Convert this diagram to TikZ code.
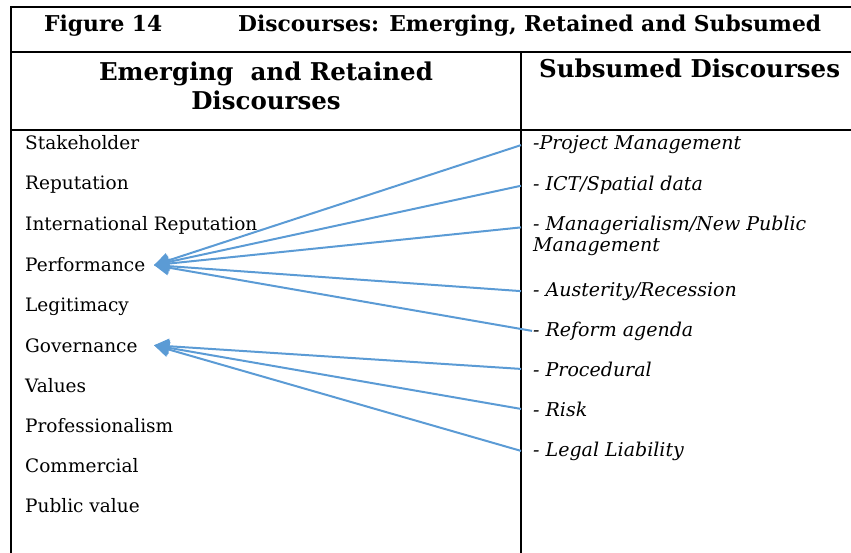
\documentclass[tikz,border=0pt]{standalone}
\usepackage{fontspec}
\setmainfont{DejaVu Serif}
\usetikzlibrary{arrows.meta}
\definecolor{linkblue}{HTML}{5B9BD5}

\begin{document}
\begin{tikzpicture}[x=1pt,y=-1pt]

      \useasboundingbox (0,0) rectangle (851,553);

      \begin{scope}[line width=2pt]
        \draw (10,7) -- (851,7);
        \draw (10,52) -- (851,52);
        \draw (10,130) -- (851,130);
        \draw (11,6) -- (11,553);
        \draw (521,52) -- (521,553);
      \end{scope}

      \begin{scope}[every node/.style={anchor=base west, inner sep=0pt, font=\fontsize{21.8}{26}\selectfont\bfseries}]
        \node (fig)   at (44,32)  {Figure 14};
        \node (title) at (238,32) {Discourses: Emerging, Retained and Subsumed};
      \end{scope}

      \begin{scope}[every node/.style={inner sep=0pt, font=\fontsize{24.5}{29}\selectfont\bfseries}]
        \node[align=center] (emhead) at (266,86) {Emerging\ \ and Retained\\Discourses};
        \node[anchor=base west] (subhead) at (539,78) {Subsumed Discourses};
      \end{scope}

      \begin{scope}[every node/.style={anchor=base west, inner sep=0pt, font=\fontsize{18.5}{22}\selectfont}]
        \node (stake) at (25,150) {Stakeholder};
        \node (rep)   at (25,190) {Reputation};
        \node (irep)  at (25,231) {International Reputation};
        \node (perf)  at (25,272) {Performance};
        \node (legit) at (25,312) {Legitimacy};
        \node (gov)   at (25,352) {Governance};
        \node (val)   at (25,392) {Values};
        \node (prof)  at (25,432) {Professionalism};
        \node (comm)  at (25,472) {Commercial};
        \node (pubv)  at (25,512) {Public value};
      \end{scope}

      \begin{scope}[every node/.style={anchor=base west, inner xsep=12pt, inner ysep=0pt, align=left, font=\fontsize{19}{21}\selectfont\itshape}]
        \node (pm)   at (521,150) {-Project Management};
        \node (ict)  at (521,191) {- ICT/Spatial data};
        \node (mpm)  at (521,252) {- Managerialism/New Public\\Management};
        \node (aust) at (521,296) {- Austerity/Recession};
        \node (ref)  at (521,336) {- Reform agenda};
        \node (proc) at (521,376) {- Procedural};
        \node (risk) at (521,416) {- Risk};
        \node (legal) at (521,456) {- Legal Liability};
      \end{scope}

      \coordinate (tip) at (154,0);

      \begin{scope}[every edge/.style={draw, linkblue, line width=2pt, -{Triangle[length=15pt,width=15pt]}}]
        \path (pm.west)   edge (perf.east -| tip);
        \path (ict.west)  edge (perf.east -| tip);
        \path ([yshift=9pt]mpm.west) edge (perf.east -| tip);
        \path (aust.west) edge (perf.east -| tip);
        \path ([xshift=11pt]ref.west) edge (perf.east -| tip);
        \path (proc.west) edge (gov.east -| tip);
        \path (risk.west) edge (gov.east -| tip);
        \path (legal.west) edge (gov.east -| tip);
      \end{scope}

    \end{tikzpicture}
\end{document}
